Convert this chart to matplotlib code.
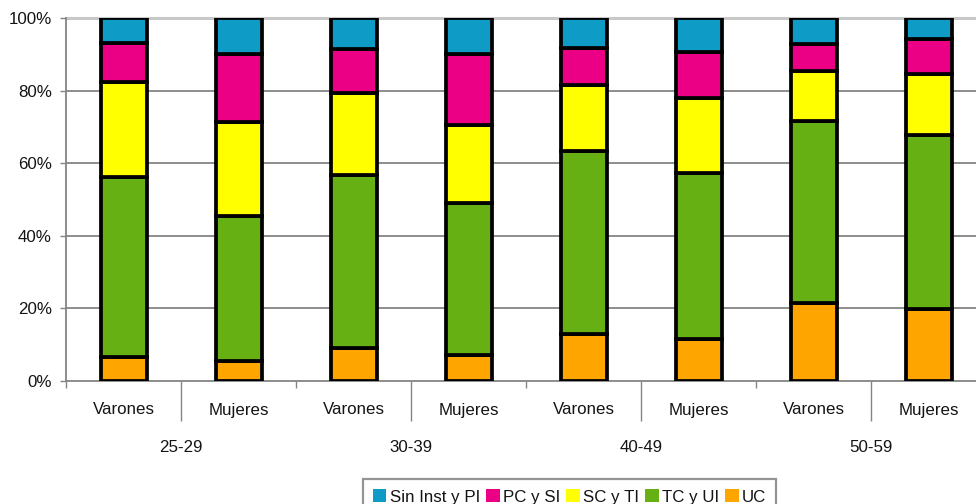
import matplotlib
matplotlib.use("Agg")
import matplotlib.pyplot as plt
from matplotlib.patches import Patch
from matplotlib import font_manager
import numpy as np

# --- data -------------------------------------------------------------
groups = ["25-29", "30-39", "40-49", "50-59"]
sexes = ["Varones", "Mujeres"]
bar_labels = [s for _ in groups for s in sexes]

# percentages per bar, bottom to top of the stack
uc = [6.6, 5.5, 9.0, 7.3, 13.0, 11.6, 21.5, 19.8]
tc_ui = [49.6, 40.0, 47.7, 41.7, 50.4, 45.7, 50.1, 48.0]
sc_ti = [26.2, 25.9, 22.6, 21.5, 18.1, 20.7, 13.8, 16.8]
pc_si = [10.6, 18.6, 12.1, 19.5, 10.2, 12.6, 7.4, 9.6]
sin_inst = [100 - a - b - c - d for a, b, c, d in zip(uc, tc_ui, sc_ti, pc_si)]

series_names = ["UC", "TC y UI", "SC y TI", "PC y SI", "Sin Inst y PI"]
series_values = [uc, tc_ui, sc_ti, pc_si, sin_inst]
series_colors = ["#FFA500", "#66B014", "#FFFF00", "#EB0085", "#0E9BC6"]
legend_order = ["Sin Inst y PI", "PC y SI", "SC y TI", "TC y UI", "UC"]

y_ticks = [0, 20, 40, 60, 80, 100]
y_tick_labels = ["0%", "20%", "40%", "60%", "80%", "100%"]

# --- font -------------------------------------------------------------
available = {f.name for f in font_manager.fontManager.ttflist}
base_font = "Liberation Sans" if "Liberation Sans" in available else "DejaVu Sans"
plt.rcParams["font.family"] = [base_font, "DejaVu Sans"]
FS = 12.2
TXT = "#141414"
GRID = "#858585"

# --- figure -----------------------------------------------------------
W, H = 976, 504
fig = plt.figure(figsize=(W / 100, H / 100), dpi=100)
x0, y_bottom, y_top = 66, 381, 18
step = 115
ax = fig.add_axes([x0 / W, 1 - y_bottom / H, step * 8 / W, (y_bottom - y_top) / H])
ax.set_xlim(-0.5, 7.5)
ax.set_ylim(0, 100)

x = np.arange(len(bar_labels))
bottom = np.zeros(len(bar_labels))
for name, vals, col in zip(series_names, series_values, series_colors):
    ax.bar(x, vals, bottom=bottom, width=0.4, color=col, edgecolor="black",
           linewidth=2.7, label=name, zorder=3)
    bottom += np.array(vals)

# horizontal gridlines
for yv in y_ticks[1:-1]:
    ax.axhline(yv, color=GRID, lw=1.3, zorder=1)
ax.axhline(100, color="#C8C8C8", lw=2.2, zorder=1, clip_on=False)

for side in ["top", "right"]:
    ax.spines[side].set_visible(False)
ax.spines["left"].set_color(GRID)
ax.spines["left"].set_linewidth(1.3)
ax.spines["bottom"].set_color(GRID)
ax.spines["bottom"].set_linewidth(1.3)

# y axis
ax.set_yticks(y_ticks)
ax.set_yticklabels(y_tick_labels, fontsize=FS, color=TXT)
ax.tick_params(axis="y", length=4.3, width=1.0, color=GRID, pad=5.8)

# x axis: long lines at group centres, short ticks between groups
ax.set_xticks([0.5, 2.5, 4.5, 6.5])
ax.set_xticklabels([])
ax.set_xticks([-0.5, 1.5, 3.5, 5.5], minor=True)
ax.tick_params(axis="x", which="major", length=28.5, width=1.0, color=GRID)
ax.tick_params(axis="x", which="minor", length=5, width=1.0, color=GRID)

px = 1 / (y_bottom - y_top)  # one pixel in axes-fraction units
for xi, lab in zip(x, bar_labels):
    ax.text(xi, -29 * px, lab, transform=ax.get_xaxis_transform(),
            ha="center", va="center", fontsize=FS, color=TXT, clip_on=False)
for gi, g in enumerate(groups):
    ax.text(2 * gi + 0.5, -66 * px, g, transform=ax.get_xaxis_transform(),
            ha="center", va="center", fontsize=FS, color=TXT, clip_on=False)

# legend
color_of = dict(zip(series_names, series_colors))
handles = [Patch(facecolor=color_of[n], edgecolor="none", label=n) for n in legend_order]
leg = fig.legend(handles=handles, loc="upper center",
                 bbox_to_anchor=(569.5 / W, 1 - 479 / H), ncol=5, fontsize=FS,
                 frameon=True, fancybox=False, handlelength=0.8, handleheight=0.8,
                 handletextpad=0.2, columnspacing=0.35, borderpad=0.6,
                 borderaxespad=0)
leg.get_frame().set_edgecolor("#7a7a7a")
leg.get_frame().set_linewidth(1.6)
for t in leg.get_texts():
    t.set_color(TXT)

fig.savefig("out.png", dpi=100)
